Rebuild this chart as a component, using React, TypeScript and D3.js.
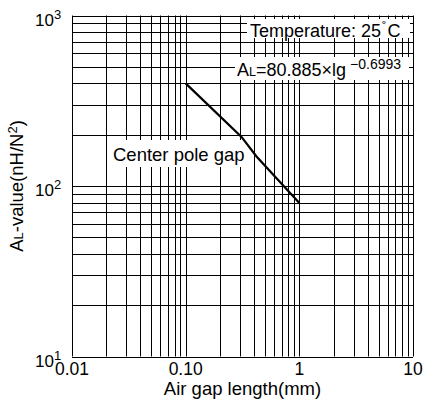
import React from "react";
import * as d3 from "d3";

const xTickValues = [0.01, 0.1, 1, 10];
const xTickLabels = ["0.01", "0.10", "1", "10"];
const yTickValues = [10, 100, 1000];
const yTickExponents = ["1", "2", "3"];
const gapValues = [0.1, 0.31, 0.42, 1.0];
const alValues = [400, 194, 149, 79.5];

const W = 424;
const H = 403;
const FONT = "'Liberation Sans', Arial, Helvetica, sans-serif";

export default function App() {
  const left = 72, right = 413, top = 15.5, bottom = 356.5;
  const x = d3.scaleLog().domain([0.01, 10]).range([left, right]);
  const y = d3.scaleLog().domain([10, 1000]).range([bottom, top]);

  const xGrid: number[] = [];
  for (let e = -2; e < 1; e++) for (let m = 1; m <= 9; m++) xGrid.push(m * Math.pow(10, e));
  xGrid.push(10);
  const yGrid: number[] = [];
  for (let e = 1; e < 3; e++) for (let m = 1; m <= 9; m++) yGrid.push(m * Math.pow(10, e));
  yGrid.push(1000);

  const line = d3
    .line<number>()
    .x((_, i) => x(gapValues[i]))
    .y((d) => y(d));

  const px = (v: number) => Math.round(v) + 0.5;

  return (
    <svg width={W} height={H} style={{ position: "absolute", left: 0, top: 0, background: "#fff" }} fontFamily={FONT}>
      <rect x={0} y={0} width={W} height={H} fill="#fff" />
      {xGrid.map((v, i) => (
        <line key={"xg" + i} x1={px(x(v))} x2={px(x(v))} y1={top} y2={bottom} stroke="#000" strokeWidth={1} />
      ))}
      {yGrid.map((v, i) => (
        <line key={"yg" + i} x1={left} x2={right} y1={px(y(v))} y2={px(y(v))} stroke="#000" strokeWidth={1} />
      ))}

      {/* annotation boxes */}
      <rect x={247} y={19} width={163} height={19} fill="#fff" />
      <text x={250} y={37} fontSize={18} fill="#000">
        Temperature: 25
        <tspan fontSize={13} dy={-6} dx={1}>˚</tspan>
        <tspan dy={6} dx={1}>C</tspan>
      </text>
      <rect x={235} y={57} width={174} height={23} fill="#fff" />
      <text x={237} y={76} fontSize={18} fill="#000">
        A<tspan fontSize={12.5}>L</tspan>=80.885×lg
        <tspan fontSize={14} dy={-7} dx={4}>−0.6993</tspan>
      </text>
      <rect x={107} y={140} width={141} height={27} fill="#fff" />
      <text x={113} y={161} fontSize={18.5} fill="#000">Center pole gap</text>

      <path d={line(alValues) || ""} fill="none" stroke="#000" strokeWidth={2.2} />

      {/* y tick labels */}
      {yTickValues.map((v, i) => (
        <text key={"yt" + i} x={35} y={y(v) + 10} fontSize={17} fill="#000">
          10<tspan fontSize={13} dy={-7}>{yTickExponents[i]}</tspan>
        </text>
      ))}
      {/* x tick labels */}
      {xTickValues.map((v, i) => (
        <text key={"xt" + i} x={x(v)} y={375} fontSize={17.5} textAnchor="middle" fill="#000">
          {xTickLabels[i]}
        </text>
      ))}
      <text x={(left + right) / 2} y={395} fontSize={18.5} textAnchor="middle" fill="#000">
        Air gap length(mm)
      </text>
      <text transform={`translate(23, ${(top + bottom) / 2}) rotate(-90)`} fontSize={18.5} textAnchor="middle" fill="#000">
        A<tspan fontSize={13}>L</tspan>-value(nH/N<tspan fontSize={13} dy={-6}>2</tspan><tspan dy={6}>)</tspan>
      </text>
    </svg>
  );
}
